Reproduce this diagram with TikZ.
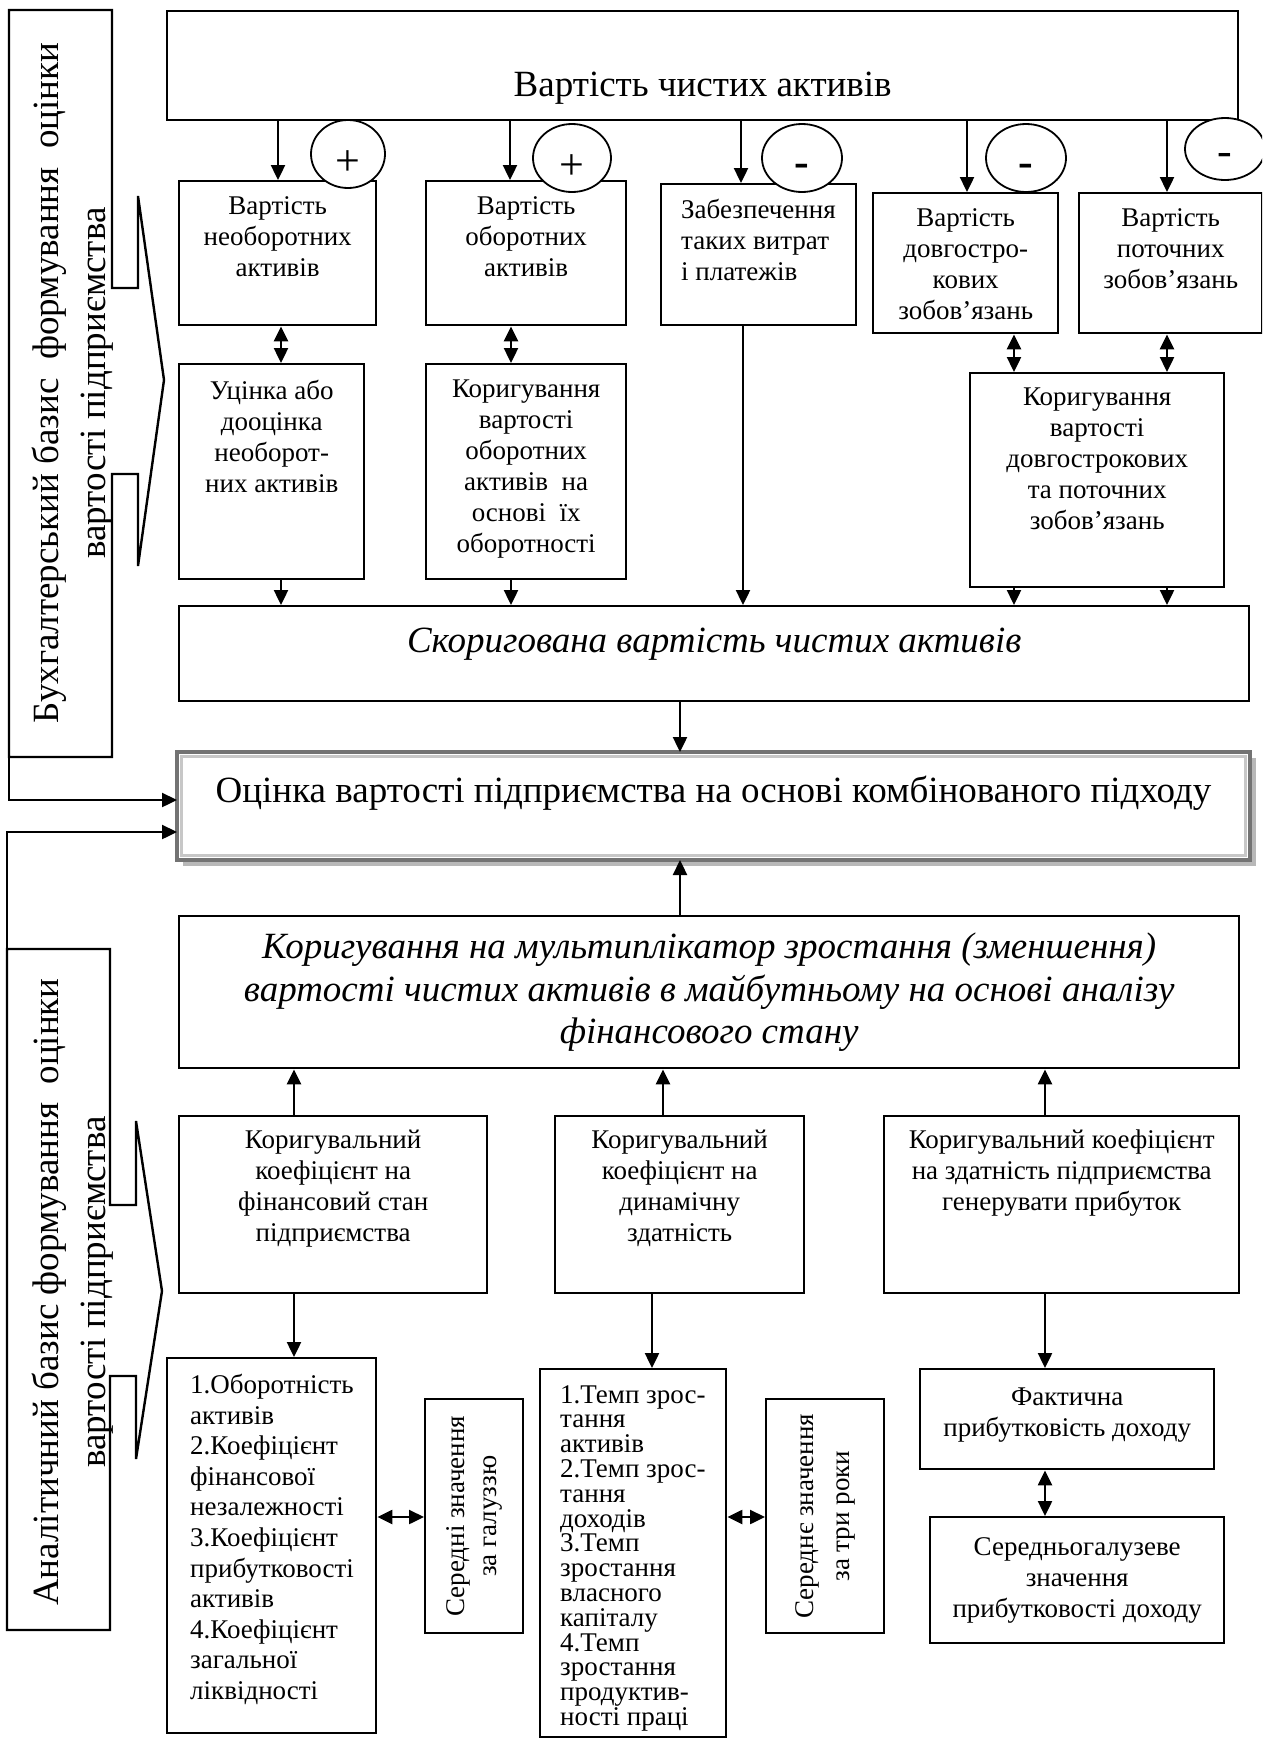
\documentclass[tikz,border=0pt]{standalone}
\usepackage{fontspec}
\setmainfont{Liberation Serif}
\usetikzlibrary{positioning}
\usetikzlibrary{arrows.meta}
\usetikzlibrary{shapes.geometric}
\usetikzlibrary{shadows}

\tikzset{
  box/.style={draw, line width=2.4, anchor=north west, inner sep=0, fill=white},
  txt/.style={align=center, inner sep=0, font=\fontsize{27}{31}\selectfont},
  ltxt/.style={align=left, inner sep=0, anchor=north west, font=\fontsize{27}{30.6}\selectfont},
  big/.style={align=center, inner sep=0, font=\fontsize{37}{42}\selectfont},
  sign/.style={ellipse, draw, line width=1.8, fill=white, inner sep=0},
  signtext/.style={inner sep=0, font=\fontsize{44}{44}\selectfont},
  link/.style={line width=2.4, -{Triangle[length=15pt,width=14pt]}},
  both/.style={line width=2.4, {Triangle[length=15pt,width=14pt]}-{Triangle[length=15pt,width=14pt]}},
}

\begin{document}
\begin{tikzpicture}[x=1pt, y=1pt]

\useasboundingbox (0,0) rectangle (1262,-1738);
\clip (0,0) rectangle (1262,-1738);

%% net assets
\node[box, minimum width=1071, minimum height=109] (top) at (166,-10) {};
\node[big] (toptext) at ([yshift=-22]top.center) {Вартість чистих активів};

%% first row
\node[box, minimum width=197, minimum height=144] (b1) at (178,-180) {};
\node[box, minimum width=200, minimum height=144] (b2) at (425,-180) {};
\node[box, minimum width=195, minimum height=141] (b3) at (660,-183) {};
\node[box, minimum width=185, minimum height=140] (b4) at (872,-192) {};
\node[box, minimum width=183, minimum height=140] (b5) at (1078,-192) {};

\node[txt, below=16pt of b1.north] (b1text) {Вартість\\необоротних\\активів};
\node[txt, below=16pt of b2.north] (b2text) {Вартість\\оборотних\\активів};
\node[txt, align=left, anchor=north west] (b3text) at ([xshift=21,yshift=-16]b3.north west) {Забезпечення\\таких витрат\\і платежів};
\node[txt, below=16pt of b4.north] (b4text) {Вартість\\довгостро-\\кових\\зобов’язань};
\node[txt, below=16pt of b5.north] (b5text) {Вартість\\поточних\\зобов’язань};

%% second row
\node[box, minimum width=185, minimum height=215] (r1) at (178,-363) {};
\node[box, minimum width=200, minimum height=215] (r2) at (425,-363) {};
\node[box, minimum width=254, minimum height=214] (r3) at (969,-372) {};

\node[txt, below=17pt of r1.north] (r1text) {Уцінка або\\дооцінка\\необорот-\\них активів};
\node[txt, below=17pt of r2.north] (r2text) {Коригування\\вартості\\оборотних\\активів ~на\\основі ~їх\\оборотності};
\node[txt, below=16pt of r3.north] (r3text) {Коригування\\вартості\\довгострокових\\та поточних\\зобов’язань};

%% adjusted value
\node[box, minimum width=1070, minimum height=95] (adj) at (178,-605) {};
\node[big, font=\fontsize{37}{42}\selectfont\itshape] (adjtext) at ([yshift=10]adj.center) {Скоригована вартість чистих активів};

%% result
\node[box, draw=black!55, line width=4, outer sep=0, minimum width=1073, minimum height=108,
  drop shadow={shadow xshift=6pt, shadow yshift=-6pt, fill=black!28, opacity=1}] (est) at (177,-752) {};
\draw[black!22, line width=3] ([shift={(4.5,-4.5)}]est.north west) rectangle ([shift={(-4.5,4.5)}]est.south east);
\node[big] (esttext) at ([yshift=13]est.center) {Оцінка вартості підприємства на основі комбінованого підходу};

%% multiplier
\node[box, minimum width=1060, minimum height=152] (mult) at (178,-915) {};
\node[big, font=\fontsize{37}{42.5}\selectfont\itshape] (multtext) at (mult.center) {Коригування на мультиплікатор зростання (зменшення)\\вартості чистих активів в майбутньому на основі аналізу\\фінансового стану};

%% coefficients
\node[box, minimum width=308, minimum height=177] (k1) at (178,-1115) {};
\node[box, minimum width=249, minimum height=177] (k2) at (554,-1115) {};
\node[box, minimum width=355, minimum height=177] (k3) at (883,-1115) {};

\node[txt, below=15pt of k1.north] (k1text) {Коригувальний\\коефіцієнт на\\фінансовий стан\\підприємства};
\node[txt, below=15pt of k2.north] (k2text) {Коригувальний\\коефіцієнт на\\динамічну\\здатність};
\node[txt, below=15pt of k3.north] (k3text) {Коригувальний коефіцієнт\\на здатність підприємства\\генерувати прибуток};

%% indicators
\node[box, minimum width=209, minimum height=375] (l1) at (166,-1357) {};
\node[box, minimum width=98, minimum height=234] (avg1) at (424,-1398) {};
\node[box, minimum width=186, minimum height=368] (l2) at (539,-1368) {};
\node[box, minimum width=118, minimum height=234] (avg2) at (765,-1398) {};
\node[box, minimum width=294, minimum height=100] (fact) at (919,-1368) {};
\node[box, minimum width=294, minimum height=126] (ind) at (929,-1516) {};

\node[ltxt] (l1text) at ([xshift=24,yshift=-17]l1.north west) {1.Оборотність\\активів\\2.Коефіцієнт\\фінансової\\незалежності\\3.Коефіцієнт\\прибутковості\\активів\\4.Коефіцієнт\\загальної\\ліквідності};
\node[ltxt, font=\fontsize{27}{24.8}\selectfont] (l2text) at ([xshift=21,yshift=-17]l2.north west) {1.Темп зрос-\\тання\\активів\\2.Темп зрос-\\тання\\доходів\\3.Темп\\зростання\\власного\\капіталу\\4.Темп\\зростання\\продуктив-\\ності праці};
\node[txt, rotate=90, font=\fontsize{27}{32}\selectfont] (avg1text) at (avg1.center) {Середні значення\\за галуззю};
\node[txt, rotate=90, font=\fontsize{27}{36}\selectfont] (avg2text) at (avg2.center) {Середнє значення\\за три роки};
\node[txt, below=20pt of fact.north] (facttext) {Фактична\\прибутковість доходу};
\node[txt, below=21pt of ind.north] (indtext) {Середньогалузеве\\значення\\прибутковості доходу};

%% side blocks
\draw[line width=2.4] (9,-757) -- (9,-10) -- (112,-10) -- (112,-288) -- (138,-288) -- (138,-196)
  -- (164,-380) -- (138,-566) -- (138,-474) -- (112,-474) -- (112,-757) -- cycle;
\draw[line width=2.4] (7,-949) -- (110,-949) -- (110,-1205) -- (136,-1205) -- (136,-1121)
  -- (162,-1291) -- (136,-1459) -- (136,-1376) -- (110,-1376) -- (110,-1630) -- (7,-1630) -- cycle;
\node[big, rotate=90, font=\fontsize{37}{47}\selectfont] (acctext) at (73,-383) {Бухгалтерський базис\ \ формування\ \ оцінки\\вартості підприємства};
\node[big, rotate=90, font=\fontsize{37}{47}\selectfont] (antext) at (73,-1292) {Аналітичний базис формування\ \ оцінки\\вартості підприємства};
\coordinate (acc) at (9,-757);
\coordinate (an) at (7,-949);

% signs
\node[sign, minimum width=74, minimum height=68] (s1) at (348,-154) {};
\node[sign, minimum width=78, minimum height=68] (s2) at (572,-158) {};
\node[sign, minimum width=80, minimum height=68] (s3) at (802,-158) {};
\node[sign, minimum width=80, minimum height=68] (s4) at (1026,-158) {};
\node[sign, minimum width=80, minimum height=62] (s5) at (1225,-149) {};
\node[signtext] (s1text) at ([yshift=-9]s1.center) {+};
\node[signtext] (s2text) at ([yshift=-9]s2.center) {+};
\node[signtext] (s3text) at ([yshift=-12]s3.center) {\bfseries -};
\node[signtext] (s4text) at ([yshift=-12]s4.center) {\bfseries -};
\node[signtext] (s5text) at ([yshift=-10]s5.center) {-};

% columns
\coordinate (c1) at (278,0);
\coordinate (c2) at (510,0);
\coordinate (c3) at (741,0);
\coordinate (c4) at (967,0);
\coordinate (c5) at (1167,0);
\coordinate (d1) at (281,0);
\coordinate (d2) at (511,0);
\coordinate (d3) at (743,0);
\coordinate (d4) at (1014,0);
\coordinate (m) at (680,0);
\coordinate (e1) at (294,0);
\coordinate (e2) at (663,0);
\coordinate (f2) at (652,0);
\coordinate (e3) at (1045,0);
\coordinate (g) at (0,-1517);

%% connectors
\draw[link] (c1 |- top.south) -- (c1 |- b1.north);
\draw[link] (c2 |- top.south) -- (c2 |- b2.north);
\draw[link] (c3 |- top.south) -- (c3 |- b3.north);
\draw[link] (c4 |- top.south) -- (c4 |- b4.north);
\draw[link] (c5 |- top.south) -- (c5 |- b5.north);

\draw[both] (d1 |- b1.south) -- (d1 |- r1.north);
\draw[both] (d2 |- b2.south) -- (d2 |- r2.north);
\draw[both] (d4 |- b4.south) -- (d4 |- r3.north);
\draw[both] (c5 |- b5.south) -- (c5 |- r3.north);

\draw[link] (d1 |- r1.south) -- (d1 |- adj.north);
\draw[link] (d2 |- r2.south) -- (d2 |- adj.north);
\draw[link] (d3 |- b3.south) -- (d3 |- adj.north);
\draw[link] (d4 |- r3.south) -- (d4 |- adj.north);
\draw[link] (c5 |- r3.south) -- (c5 |- adj.north);

\draw[link] (m |- adj.south) -- (m |- est.north);
\draw[link] (m |- mult.north) -- (m |- est.south);
\draw[link] (acc) |- ([yshift=6]est.west);
\draw[link] (an) |- ([yshift=-26]est.west);

\draw[link] (e1 |- k1.north) -- (e1 |- mult.south);
\draw[link] (e2 |- k2.north) -- (e2 |- mult.south);
\draw[link] (e3 |- k3.north) -- (e3 |- mult.south);

\draw[link] (e1 |- k1.south) -- (e1 |- l1.north);
\draw[link] (f2 |- k2.south) -- (f2 |- l2.north);
\draw[link] (e3 |- k3.south) -- (e3 |- fact.north);
\draw[both] (e3 |- fact.south) -- (e3 |- ind.north);
\draw[both] (g -| l1.east) -- (g -| avg1.west);
\draw[both] (g -| l2.east) -- (g -| avg2.west);

\end{tikzpicture}
\end{document}
